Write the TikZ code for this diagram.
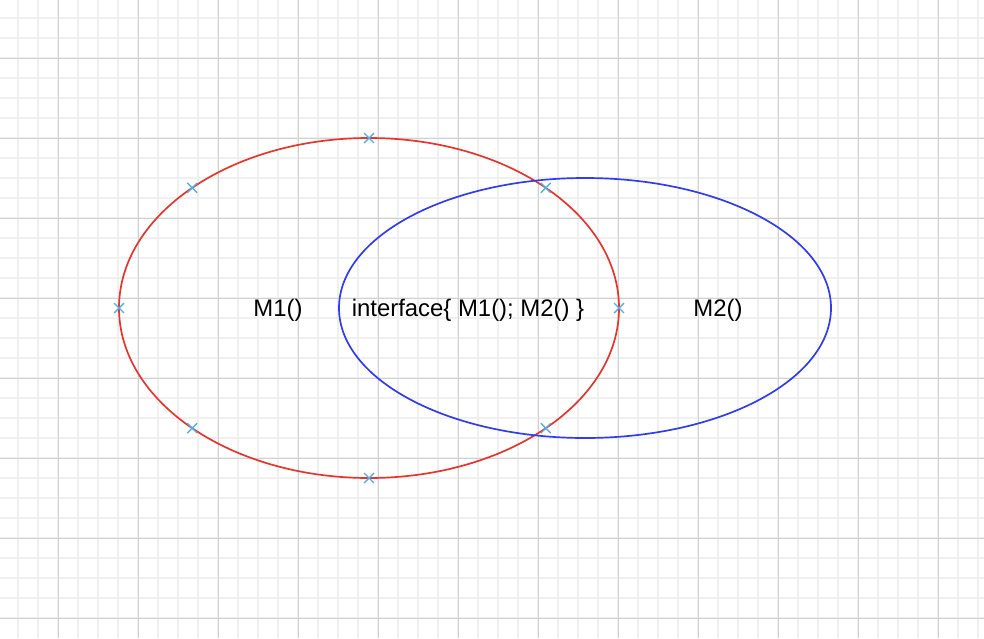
\documentclass[tikz,border=0pt]{standalone}
\usepackage{fontspec}
\setmainfont{Liberation Sans}
\usepackage{tikz}
\usetikzlibrary{calc,shapes.geometric,shapes.misc}
\definecolor{gridMin}{HTML}{F0F0F0}
\definecolor{gridMaj}{HTML}{D2D2D2}
\definecolor{setA}{HTML}{E8352B}
\definecolor{setB}{HTML}{2F3CF0}
\definecolor{pin}{HTML}{55AEE6}
\tikzset{
  minorline/.style={gridMin,line width=1pt},
  majorline/.style={gridMaj,line width=0.6pt},
  setring/.style={ellipse,draw,line width=1.2pt,inner sep=0pt},
  xpin/.style={cross out,draw=pin,line width=1pt,minimum size=6pt,inner sep=0pt},
  lbl/.style={font=\fontsize{17}{20}\selectfont}
}
\newcommand{\paper}{%
  \fill[white] (0,0) rectangle (984,638);
  \foreach \x in {18,38,...,978} \draw[minorline] (\x,0) -- (\x,638);
  \foreach \y in {18,38,...,618} \draw[minorline] (0,\y) -- (984,\y);
  \foreach \x in {58,138,...,938} \draw[majorline] (\x,0) -- (\x,638);
  \foreach \y in {58,138,...,618} \draw[majorline] (0,\y) -- (984,\y);
}

\begin{document}
\begin{tikzpicture}[x=0.025cm,y=-0.025cm]
\useasboundingbox (0,0) rectangle (984,638);
\paper
\node[setring,draw=setA,minimum width=500*0.025cm,minimum height=340*0.025cm] (ringA) at (369,308) {};
\node[setring,draw=setB,minimum width=492*0.025cm,minimum height=260*0.025cm] (ringB) at (585,308) {};
\foreach \a in {0,45,...,315}
  \node[xpin] (pin\a) at ($(ringA.center)+(\a:250 and 170)$) {};
\node[lbl] (onlyA) at (278,310) {M1()};
\node[lbl] (both) at (468,310) {interface\{ M1(); M2() \}};
\node[lbl] (onlyB) at (718,310) {M2()};
\end{tikzpicture}
\end{document}
